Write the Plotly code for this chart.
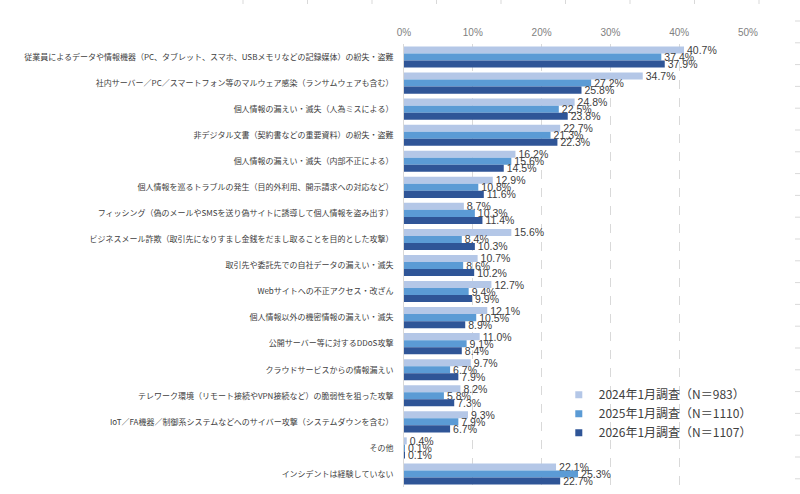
import plotly.graph_objects as go

categories = [
    "従業員によるデータや情報機器（PC、タブレット、スマホ、USBメモリなどの記録媒体）の紛失・盗難",
    "社内サーバー／PC／スマートフォン等のマルウェア感染（ランサムウェアも含む）",
    "個人情報の漏えい・滅失（人為ミスによる）",
    "非デジタル文書（契約書などの重要資料）の紛失・盗難",
    "個人情報の漏えい・滅失（内部不正による）",
    "個人情報を巡るトラブルの発生（目的外利用、開示請求への対応など）",
    "フィッシング（偽のメールやSMSを送り偽サイトに誘導して個人情報を盗み出す）",
    "ビジネスメール詐欺（取引先になりすまし金銭をだまし取ることを目的とした攻撃）",
    "取引先や委託先での自社データの漏えい・滅失",
    "Webサイトへの不正アクセス・改ざん",
    "個人情報以外の機密情報の漏えい・滅失",
    "公開サーバー等に対するDDoS攻撃",
    "クラウドサービスからの情報漏えい",
    "テレワーク環境（リモート接続やVPN接続など）の脆弱性を狙った攻撃",
    "IoT／FA機器／制御系システムなどへのサイバー攻撃（システムダウンを含む）",
    "その他",
    "インシデントは経験していない",
]

series_names = [
    "2024年1月調査（N＝983）",
    "2025年1月調査（N＝1110）",
    "2026年1月調査（N＝1107）",
]

values_2024 = [40.7, 34.7, 24.8, 22.7, 16.2, 12.9, 8.7, 15.6, 10.7, 12.7, 12.1, 11.0, 9.7, 8.2, 9.3, 0.4, 22.1]
values_2025 = [37.4, 27.2, 22.5, 21.3, 15.6, 10.8, 10.3, 8.4, 8.6, 9.4, 10.5, 9.1, 6.7, 5.8, 7.9, 0.1, 25.3]
values_2026 = [37.9, 25.8, 23.8, 22.3, 14.5, 11.6, 11.4, 10.3, 10.2, 9.9, 8.9, 8.4, 7.9, 7.3, 6.7, 0.1, 22.7]

colors = ["#b4c7e7", "#5b9bd5", "#2f5597"]
all_values = [values_2024, values_2025, values_2026]

fig = go.Figure()
for name, vals, col in zip(series_names, all_values, colors):
    fig.add_trace(go.Bar(
        y=categories,
        x=vals,
        name=name,
        orientation="h",
        marker=dict(color=col, line=dict(width=0)),
        texttemplate="%{x:.1f}%",
        textposition="outside",
        constraintext="none",
        cliponaxis=False,
        showlegend=False,
        textfont=dict(family="Liberation Sans, Arial, sans-serif", size=10.5, color="#404040"),
    ))

# legend entries with small square swatches
for name, col in zip(series_names, colors):
    fig.add_trace(go.Scatter(
        x=[None], y=[None], mode="markers", name=name,
        marker=dict(symbol="square", size=7, color=col),
        showlegend=True, hoverinfo="skip",
    ))

# faint border tick marks of the original screenshot frame
shapes = []
for i in range(9):
    xp = 243 + i * 64.5
    shapes.append(dict(type="line", xref="paper", yref="paper",
                       x0=(xp - 404) / 344, x1=(xp - 404) / 344,
                       y0=(487 - 0) / 443, y1=(487 - 4) / 443,
                       line=dict(color="#d9d9d9", width=1)))
for i in range(22):
    yp = 21 + i * 21.8
    shapes.append(dict(type="line", xref="paper", yref="paper",
                       x0=(795 - 404) / 344, x1=(800 - 404) / 344,
                       y0=(487 - yp) / 443, y1=(487 - yp) / 443,
                       line=dict(color="#d9d9d9", width=1)))

fig.update_layout(
    width=800,
    height=494,
    barmode="group",
    bargap=0.19,
    bargroupgap=0,
    plot_bgcolor="white",
    paper_bgcolor="white",
    margin=dict(l=404, r=52, t=44, b=7, autoexpand=False),
    font=dict(family="Noto Sans CJK JP, sans-serif", color="#404040"),
    legend=dict(
        x=0.45, y=0.241, xanchor="left", yanchor="top",
        traceorder="normal",
        font=dict(family="Noto Sans CJK JP, sans-serif", size=12, color="#404040"),
        bgcolor="rgba(0,0,0,0)",
        itemwidth=30,
        tracegroupgap=0,
    ),
    showlegend=True,
    shapes=shapes,
)

fig.update_xaxes(
    side="top",
    range=[0, 50],
    dtick=10,
    ticksuffix="%",
    showgrid=True,
    gridcolor="#d9d9d9",
    griddash="dash",
    gridwidth=1,
    zeroline=False,
    showline=False,
    ticklabelstandoff=5,
    tickfont=dict(family="Liberation Sans, Arial, sans-serif", size=10, color="#7f7f7f"),
    fixedrange=True,
)

fig.update_yaxes(
    autorange="reversed",
    showline=True,
    linecolor="#d9d9d9",
    linewidth=1,
    showgrid=False,
    ticks="",
    ticklabelstandoff=8,
    tickfont=dict(family="Noto Sans CJK JP, sans-serif", size=8.0, color="#404040"),
    automargin=False,
    fixedrange=True,
)

fig.write_html("out.html")
